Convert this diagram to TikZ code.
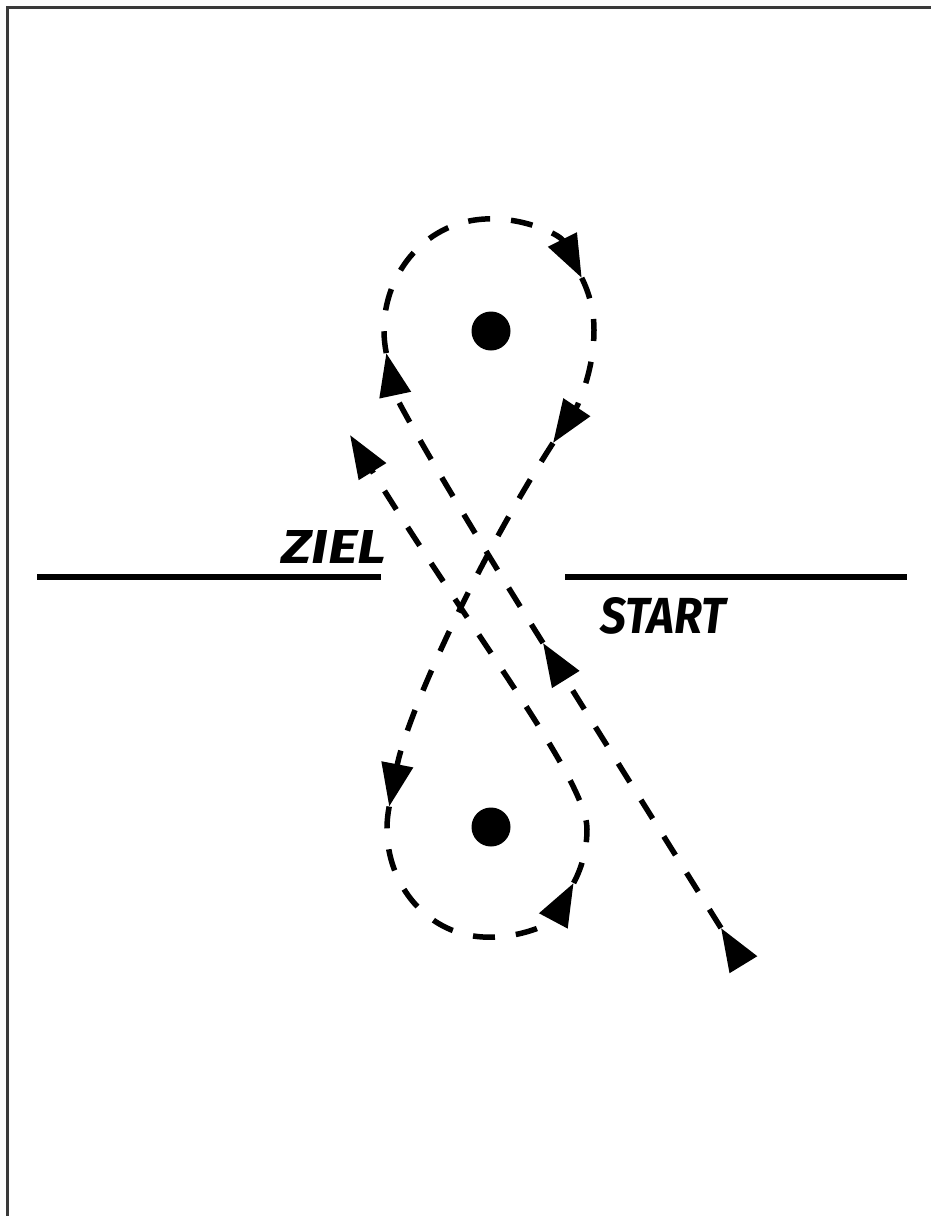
\documentclass[tikz,border=0pt]{standalone}
\usepackage{fontspec}
\usepackage{graphicx}
\newfontfamily\brushfont{Fira Sans}
\usetikzlibrary{arrows.meta,calc}
\definecolor{framegray}{HTML}{3A3A3A}
\begin{document}
\begin{tikzpicture}[x=1pt,y=-1pt,
  route/.style={line width=5.5pt, dash pattern=on 22pt off 21pt},
  headed/.style={-{Triangle[length=43pt,width=31pt]}},
  bar/.style={line width=6pt},
  dot/.style={circle, fill=black, inner sep=0pt, minimum size=39pt},
  lbl/.style={inner sep=0pt, font=\brushfont\bfseries\itshape}]
\useasboundingbox (0,0) rectangle (931,1216);
% frame (only top and left edges visible)
\draw[framegray, line width=2.5pt] (7.5,1216) -- (7.5,7.5) -- (931,7.5);
% finish line (two halves)
\coordinate (L1) at (37,577);
\coordinate (L2) at (381,577);
\coordinate (R1) at (565,577);
\coordinate (R2) at (907,577);
\draw[bar] (L1) -- (L2);
\draw[bar] (R1) -- (R2);
% pylons
\node[dot] (dtop) at (491,331) {};
\node[dot] (dbot) at (491,827) {};
% labels
\node[lbl] (ziel) at (334,547) {\resizebox{105pt}{33pt}{ZIEL}};
\node[lbl] (start) at (663,616) {\resizebox{125pt}{36pt}{START}};
% route geometry
\coordinate (Ctop) at (489,330);
\coordinate (Cbot) at (487,829);
\coordinate (S0) at (743,964);
\coordinate (A1) at (721,928);
\coordinate (A2) at (543,643);
\coordinate (A3) at ($(Ctop)+(168:105 and 111)$);
\coordinate (A4) at ($(Ctop)+(332:105 and 111)$);
\coordinate (A5) at (553,443);
\coordinate (A6) at ($(Cbot)+(192:100 and 108)$);
\coordinate (A7) at ($(Cbot)+(30:100 and 108)$);
\coordinate (A8) at (350,435);
% route
\draw[route, headed] (S0) -- (A1);
\draw[route, headed] (A1) -- (A2);
\draw[route, headed] (A2) .. controls +(-93,-148) and +(10,47) .. (A3);
\draw[route, headed] (A3) arc[start angle=168, end angle=332, x radius=105, y radius=111];
\draw[route, headed] (A4) arc[start angle=332, end angle=360, x radius=105, y radius=111]
  .. controls +(0,45) and +(22,-33) .. (A5);
\draw[route, headed] (A5) .. controls +(-81,126) and +(17,-88) .. (A6);
\draw[route, headed] (A6) arc[start angle=192, end angle=30, x radius=100, y radius=108];
\draw[route, headed] (A7) arc[start angle=30, end angle=0, x radius=100, y radius=108]
  .. controls +(0,-49) and +(120,195) .. (A8);
\end{tikzpicture}
\end{document}
